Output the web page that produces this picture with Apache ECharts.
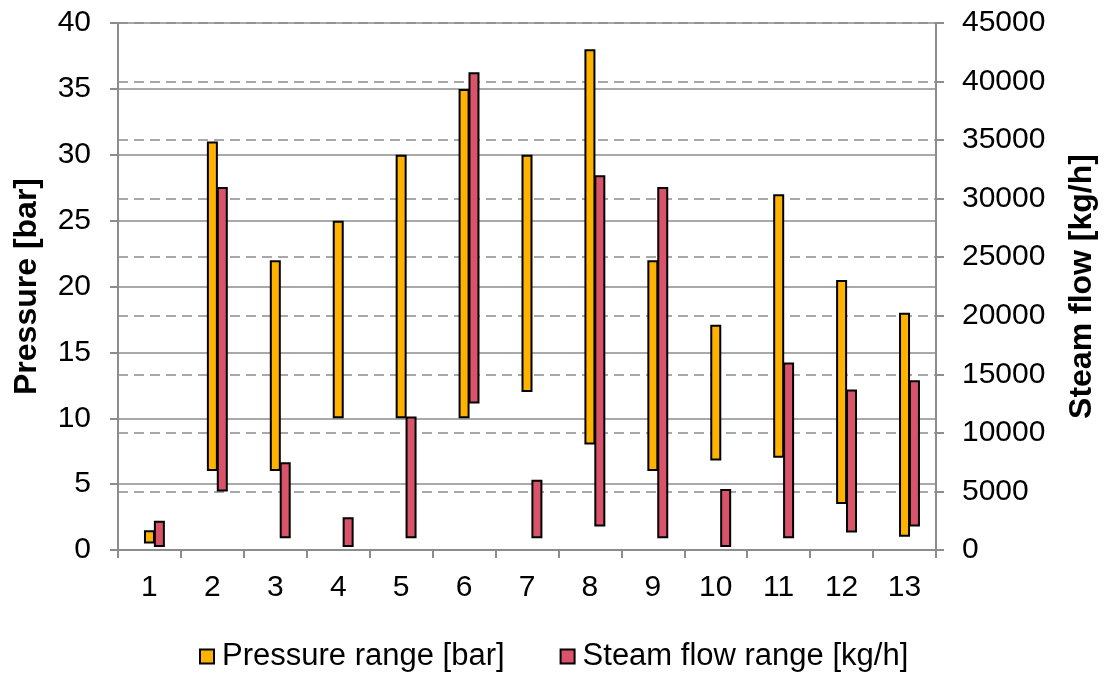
<!DOCTYPE html>
<html>
<head>
<meta charset="utf-8">
<script src="https://cdn.jsdelivr.net/npm/echarts@6/dist/echarts.min.js"></script>
<style>
  html, body { margin: 0; padding: 0; background: #fff; }
  #chart { width: 1106px; height: 674px; }
</style>
</head>
<body>
<div id="chart"></div>
<script>
// Plant numbers along the x axis
const categories = ['1', '2', '3', '4', '5', '6', '7', '8', '9', '10', '11', '12', '13'];

// Operating pressure range per plant [bar]
const pressureLow  = [0.5, 6, 6, 10, 10, 10, 12, 8, 6, 6.8, 7, 3.5, 1];
const pressureHigh = [1.5, 31, 22, 25, 30, 35, 30, 38, 22, 17.1, 27, 20.5, 18];

// Steam flow range per plant [kg/h]
const steamLow  = [250, 5000, 1000, 250, 1000, 12500, 1000, 2000, 1000, 250, 1000, 1500, 2000];
const steamHigh = [2500, 31000, 7500, 2800, 11400, 40800, 6000, 32000, 31000, 5200, 16000, 13700, 14500];

const FONT = 'Liberation Sans, Arial, sans-serif';
const GRID_GREY = '#8c8c8c';
const ORANGE = '#FFB300';
const RED = '#D9536B';
const BAR_W = 11;

const span = (lo, hi) => hi.map((h, i) => +(h - lo[i]).toFixed(3));

const chart = echarts.init(document.getElementById('chart'));

const baseStyle = { color: 'transparent', borderWidth: 0 };
const rangeStyle = (c) => ({ color: c, borderColor: '#000', borderWidth: 2 });

chart.setOption({
  animation: false,
  grid: { left: 118, right: 163, top: 23, bottom: 124, containLabel: false },
  legend: {
    data: ['Pressure range [bar]', 'Steam flow range [kg/h]'],
    left: 199,
    top: 641,
    padding: 0,
    icon: 'rect',
    itemWidth: 14,
    itemHeight: 14,
    itemGap: 55,
    textStyle: { fontFamily: FONT, fontSize: 31, color: '#000', padding: [0, 0, 0, 3] }
  },
  xAxis: {
    type: 'category',
    data: categories,
    boundaryGap: true,
    axisLine: { show: true, lineStyle: { color: GRID_GREY, width: 2 } },
    axisTick: { show: true, length: 8, lineStyle: { color: GRID_GREY, width: 2 } },
    axisLabel: { fontFamily: FONT, fontSize: 30, color: '#000', margin: 23 },
    splitLine: { show: false }
  },
  yAxis: [
    {
      type: 'value',
      min: 0, max: 40, interval: 5,
      name: 'Pressure [bar]',
      nameLocation: 'middle',
      nameRotate: 90,
      nameGap: 75,
      nameTextStyle: { fontFamily: FONT, fontSize: 32, fontWeight: 'bold', color: '#000' },
      axisLine: { show: true, lineStyle: { color: GRID_GREY, width: 2 } },
      axisTick: { show: true, length: 8, lineStyle: { color: GRID_GREY, width: 2 } },
      axisLabel: { fontFamily: FONT, fontSize: 30, color: '#000', margin: 27 },
      splitLine: { show: true, lineStyle: { color: GRID_GREY, width: 1.5, type: 'solid' } }
    },
    {
      type: 'value',
      min: 0, max: 45000, interval: 5000,
      position: 'right',
      name: 'Steam flow [kg/h]',
      nameLocation: 'middle',
      nameRotate: 90,
      nameGap: 130,
      nameTextStyle: { fontFamily: FONT, fontSize: 32, fontWeight: 'bold', color: '#000' },
      axisLine: { show: true, lineStyle: { color: GRID_GREY, width: 2 } },
      axisTick: { show: true, length: 8, lineStyle: { color: GRID_GREY, width: 2 } },
      axisLabel: {
        fontFamily: FONT, fontSize: 30, color: '#000', margin: 26,
        formatter: (v) => String(v)
      },
      splitLine: { show: true, lineStyle: { color: GRID_GREY, width: 1.5, type: [10, 6] } }
    }
  ],
  series: [
    // empty spacer column so the pressure bar sits centred on each category
    {
      name: 'spacer', type: 'bar', stack: 'spacer', barWidth: BAR_W, barGap: '-10%',
      data: categories.map(() => null), silent: true
    },
    {
      name: 'pressure base', type: 'bar', stack: 'pressure', yAxisIndex: 0,
      barWidth: BAR_W, barGap: '-10%', itemStyle: baseStyle, silent: true,
      data: pressureLow
    },
    {
      name: 'Pressure range [bar]', type: 'bar', stack: 'pressure', yAxisIndex: 0,
      barWidth: BAR_W, barGap: '-10%', itemStyle: rangeStyle(ORANGE),
      data: span(pressureLow, pressureHigh)
    },
    {
      name: 'steam base', type: 'bar', stack: 'steam', yAxisIndex: 1,
      barWidth: BAR_W, barGap: '-10%', itemStyle: baseStyle, silent: true,
      data: steamLow
    },
    {
      name: 'Steam flow range [kg/h]', type: 'bar', stack: 'steam', yAxisIndex: 1,
      barWidth: BAR_W, barGap: '-10%', itemStyle: rangeStyle(RED),
      data: span(steamLow, steamHigh)
    }
  ]
});
</script>
</body>
</html>
